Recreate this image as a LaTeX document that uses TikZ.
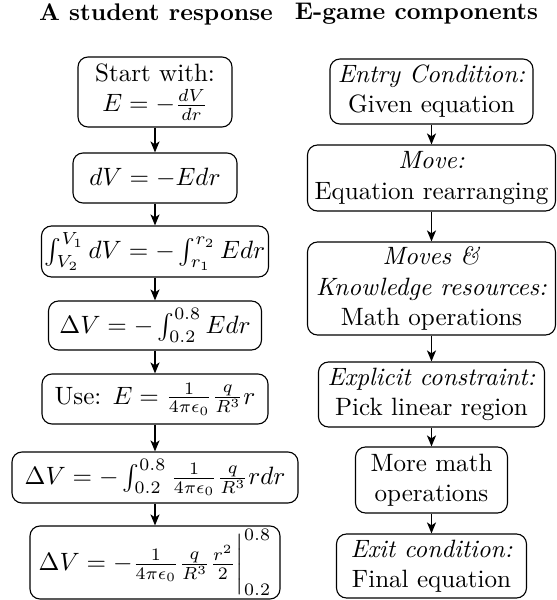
\documentclass[tikz,border=0pt]{standalone}
\usetikzlibrary{arrows.meta}
\newcommand\px[1]{#1*0.399pt}
\begin{document}
\begin{tikzpicture}[x=0.399pt,y=-0.399pt,
  box/.style={draw,rounded corners=4pt,align=center,inner sep=1pt,line width=0.45pt},
  arr/.style={-{Stealth[length=4.4pt,width=3.6pt,inset=1.2pt]},line width=0.65pt},
  ttl/.style={font=\fontsize{9.6}{11}\selectfont\bfseries,inner sep=0pt}]
\useasboundingbox (0,0) rectangle (557,600);
% titles
\node[ttl] (t1) at (156,14) {A student response};
\node[ttl] (t2) at (416.5,14) {E-game components};
% left column
\node[box,minimum width=\px{154},minimum height=\px{70}] (l1) at (155,92) {Start with:\\ $E=-\frac{dV}{dr}$};
\node[box,minimum width=\px{164},minimum height=\px{50}] (l2) at (155,178) {$dV=-Edr$};
\node[box,minimum width=\px{227},minimum height=\px{51}] (l3) at (155,251.5) {$\int_{V_2}^{V_1}dV=-\int_{r_1}^{r_2}Edr$};
\node[box,minimum width=\px{213},minimum height=\px{49}] (l4) at (155,325.5) {$\Delta V=-\int_{0.2}^{0.8}Edr$};
\node[box,minimum width=\px{226},minimum height=\px{50}] (l5) at (155,399) {Use: $E=\frac{1}{4\pi\epsilon_0}\frac{q}{R^3}r$};
\node[box,minimum width=\px{286},minimum height=\px{51}] (l6) at (155,477.5) {$\Delta V=-\int_{0.2}^{0.8}\frac{1}{4\pi\epsilon_0}\frac{q}{R^3}rdr$};
\node[box,minimum width=\px{250},minimum height=\px{73}] (l7) at (155,562.5) {$\Delta V=-\frac{1}{4\pi\epsilon_0}\frac{q}{R^3}\frac{r^2}{2}\bigg|_{0.2}^{0.8}$};
% right column
\node[box,minimum width=\px{203},minimum height=\px{65}] (r1) at (431.5,91.5) {\textit{Entry Condition:}\\ Given equation};
\node[box,minimum width=\px{248},minimum height=\px{66}] (r2) at (431.5,178) {\textit{Move:}\\ Equation rearranging};
\node[box,minimum width=\px{248},minimum height=\px{93}] (r3) at (431.5,288.5) {\textit{Moves \&}\\ \textit{Knowledge resources:}\\ Math operations};
\node[box,minimum width=\px{226},minimum height=\px{65}] (r4) at (431.5,394.5) {\textit{Explicit constraint:}\\ Pick linear region};
\node[box,minimum width=\px{152},minimum height=\px{66}] (r5) at (431.5,480) {More math\\ operations};
\node[box,minimum width=\px{190},minimum height=\px{64}] (r6) at (431.5,566) {\textit{Exit condition:}\\ Final equation};
% arrows
\draw[arr] (l1) -- (l2);
\draw[arr] (l2) -- (l3);
\draw[arr] (l3) -- (l4);
\draw[arr] (l4) -- (l5);
\draw[arr] (l5) -- (l6);
\draw[arr] (l6) -- (l7);
\draw[arr] (r1) -- (r2);
\draw[arr] (r2) -- (r3);
\draw[arr] (r3) -- (r4);
\draw[arr] (r4) -- (r5);
\draw[arr] (r5) -- (r6);
\end{tikzpicture}
\end{document}
